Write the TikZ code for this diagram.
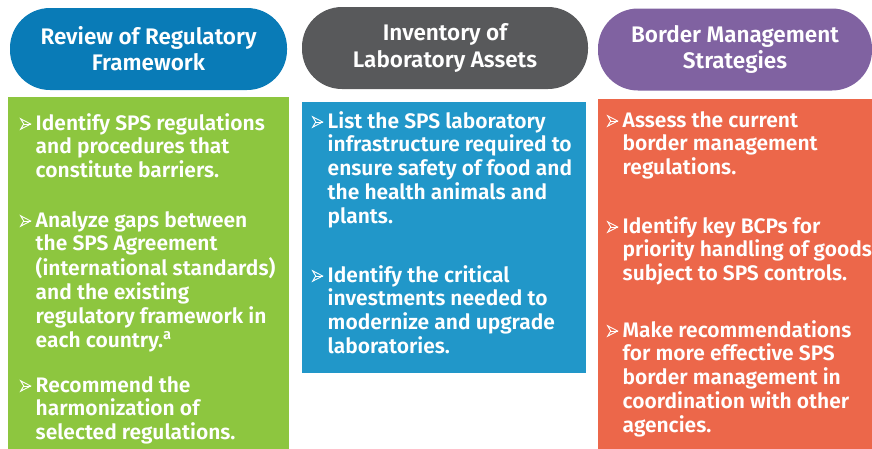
\documentclass[tikz,border=0pt]{standalone}
\usepackage{fontspec}
\setmainfont{Fira Sans}[BoldFont={* SemiBold}]
\definecolor{pillblue}{RGB}{9,123,183}
\definecolor{pillgray}{RGB}{88,89,91}
\definecolor{pillpurple}{RGB}{128,98,161}
\definecolor{boxgreen}{RGB}{141,198,63}
\definecolor{boxblue}{RGB}{33,151,201}
\definecolor{boxorange}{RGB}{236,103,74}
\newcommand\arrowmark{\tikz[baseline=0pt,x=1pt,y=1pt]{\draw[white, line width=0.9pt, line join=miter] (0.5,0.8)--(10.5,6)--(0.5,11.2)--(3.6,6)--cycle; \draw[white, line width=0.5pt] (3.6,6)--(10.5,6);}}
\newcommand\bitem[1]{\makebox[15.5pt][l]{\arrowmark}\begin{tabular}[t]{@{}l@{}}#1\end{tabular}}
\tikzset{
  pill/.style={rectangle, rounded corners=40pt, minimum height=82pt, inner sep=0pt, text=white, align=center,
    font=\bfseries\fontsize{22.5}{26}\selectfont},
  panel/.style={rectangle, inner sep=0pt, anchor=north west},
  bullet/.style={anchor=base west, inner sep=0pt, text=white, font=\bfseries\fontsize{21}{23.6}\selectfont},
}
\begin{document}
\begin{tikzpicture}[x=1pt,y=-1pt]
\useasboundingbox (0,0) rectangle (872,448);
\begin{scope}
\clip (0,0) rectangle (872,448);
% headers
\node[pill, fill=pillblue, minimum width=277pt] (h1) at (148.5,49) {Review of Regulatory\\Framework};
\node[pill, fill=pillgray, minimum width=286pt] (h2) at (445,48) {\raisebox{-2pt}{Inventory of}\\\raisebox{-3pt}{Laboratory Assets}};
\node[pill, fill=pillpurple, minimum width=274pt] (h3) at (735,49.5) {Border Management\\Strategies};
% panels
\node[panel, fill=boxgreen, minimum width=281pt, minimum height=360pt] (p1) at (8,97) {};
\node[panel, fill=boxblue, minimum width=284pt, minimum height=271pt] (p2) at (302,102) {};
\node[panel, fill=boxorange, minimum width=280pt, minimum height=360pt] (p3) at (598,99) {};
% green items
\node[bullet] (g1) at (20,130) {\bitem{Identify SPS regulations\\and procedures that\\constitute barriers.}};
\node[bullet] (g2) at (20,227) {\bitem{Analyze gaps between\\the SPS Agreement\\(international standards)\\and the existing\\regulatory framework in\\each country.\textsuperscript{a}}};
\node[bullet] (g3) at (20,392) {\bitem{Recommend the\\harmonization of\\selected regulations.}};
% blue items
\node[bullet] (b1) at (312,128) {\bitem{List the SPS laboratory\\infrastructure required to\\ensure safety of food and\\the health animals and\\plants.}};
\node[bullet] (b2) at (312,282) {\bitem{Identify the critical\\investments needed to\\modernize and upgrade\\laboratories.}};
% orange items
\node[bullet] (o1) at (607,127) {\bitem{Assess the current\\border management\\regulations.}};
\node[bullet] (o2) at (607,233) {\bitem{Identify key BCPs for\\priority handling of goods\\subject to SPS controls.}};
\node[bullet] (o3) at (607,337) {\bitem{Make recommendations\\for more effective SPS\\border management in\\coordination with other\\agencies.}};
\end{scope}
\end{tikzpicture}
\end{document}
